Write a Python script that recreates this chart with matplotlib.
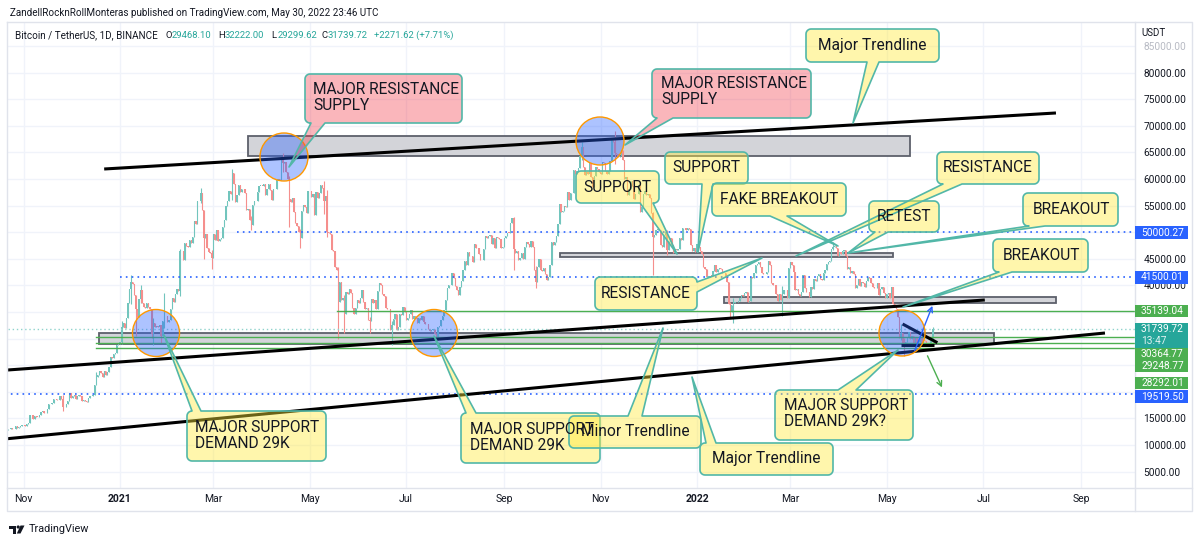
import numpy as np
import pandas as pd
import matplotlib
matplotlib.use("Agg")
import matplotlib.pyplot as plt
import matplotlib.dates as mdates
from matplotlib.patches import Polygon, Rectangle, Circle

# ---------------- DATA: BTCUSDT daily closes (thousand USDT) ----------------
close_2020_10 = [11.91, 12.82, 12.97, 12.93, 13.11, 13.03, 13.07, 13.64, 13.27, 13.46, 13.56, 13.80]  # from Oct 20
close_2020_11 = [13.74, 13.55, 14.03, 14.16, 15.59, 15.58, 14.83, 15.48, 15.33, 15.30, 15.70, 16.28, 16.32, 16.07, 15.96,
                 16.73, 17.65, 17.78, 17.82, 18.66, 18.70, 18.42, 18.37, 19.16, 18.72, 17.15, 17.14, 17.72, 18.18, 19.70]
close_2020_12 = [18.76, 19.20, 19.42, 18.65, 19.15, 19.36, 19.17, 18.32, 18.55, 18.26, 18.04, 18.80, 19.17, 19.27, 19.43,
                 21.34, 22.80, 23.13, 23.86, 23.48, 22.75, 23.82, 23.24, 23.73, 24.71, 26.49, 26.28, 27.04, 27.37, 28.86, 28.92]
close_2021_01 = [29.33, 32.18, 33.00, 31.99, 33.95, 36.77, 39.41, 40.67, 40.24, 38.24, 35.54, 34.01, 37.37, 39.16, 36.77,
                 36.01, 35.82, 36.63, 35.89, 35.47, 30.83, 33.00, 32.10, 32.29, 32.25, 32.51, 30.43, 33.40, 34.27, 34.26, 33.09]
close_2021_02 = [33.51, 35.47, 37.62, 36.94, 38.29, 39.26, 38.87, 46.45, 46.51, 44.84, 47.99, 47.41, 47.23, 48.59, 47.91,
                 49.13, 52.12, 51.55, 55.91, 55.84, 57.41, 54.09, 48.89, 49.68, 47.07, 46.28, 46.11, 45.14]
close_2021_03 = [49.59, 48.44, 50.35, 48.37, 48.76, 48.88, 50.97, 52.38, 54.88, 55.85, 57.77, 57.22, 61.19, 59.00, 55.64,
                 56.93, 58.92, 57.65, 58.03, 58.10, 57.35, 54.08, 54.34, 52.30, 51.30, 55.03, 55.84, 55.78, 57.63, 58.73, 58.74]
close_2021_04 = [58.72, 58.97, 57.06, 58.20, 59.13, 57.99, 56.07, 58.09, 58.09, 59.77, 60.00, 59.86, 63.58, 62.96, 63.16,
                 61.33, 60.01, 56.15, 55.63, 56.43, 53.79, 51.70, 51.15, 50.05, 49.00, 54.02, 55.03, 54.82, 53.56, 57.75]
close_2021_05 = [57.83, 56.61, 57.20, 53.24, 57.47, 56.43, 57.38, 58.93, 58.28, 55.86, 56.75, 49.95, 49.92, 49.72, 46.70,
                 46.43, 43.54, 42.91, 36.96, 40.60, 37.31, 37.68, 34.65, 38.80, 38.32, 39.24, 38.53, 35.66, 34.62, 35.68, 37.34]
close_2021_06 = [36.69, 37.56, 39.19, 36.85, 35.52, 35.80, 33.55, 33.38, 37.39, 36.68, 37.31, 35.55, 39.02, 40.53, 40.14,
                 38.35, 38.09, 35.82, 35.48, 35.60, 31.68, 32.51, 33.68, 34.64, 31.64, 32.16, 34.65, 34.48, 35.87, 35.04]
close_2021_07 = [33.57, 33.80, 34.67, 35.29, 33.69, 34.22, 33.86, 32.88, 33.81, 33.52, 34.26, 33.09, 32.73, 32.82, 31.78,
                 31.39, 31.53, 31.78, 30.84, 29.79, 32.14, 32.29, 33.58, 34.28, 35.43, 37.21, 39.46, 40.01, 40.03, 42.24, 41.46]
close_2021_08 = [39.85, 39.15, 38.21, 39.72, 40.87, 42.84, 44.61, 43.83, 46.29, 45.60, 45.55, 44.43, 47.83, 47.10, 47.02,
                 45.94, 44.69, 44.71, 46.76, 49.34, 48.87, 49.28, 49.51, 47.71, 48.97, 46.94, 49.06, 48.90, 48.81, 46.99, 47.13]
close_2021_09 = [48.85, 49.25, 49.94, 49.93, 51.76, 52.66, 46.86, 46.05, 46.40, 44.85, 45.14, 46.06, 44.96, 47.13, 48.15,
                 47.75, 47.30, 48.31, 47.26, 42.84, 40.69, 43.55, 44.87, 42.81, 42.70, 43.19, 42.17, 41.03, 41.52, 43.82]
close_2021_10 = [48.14, 47.63, 48.20, 49.22, 51.47, 55.32, 53.79, 53.95, 54.95, 54.66, 57.47, 56.01, 57.37, 57.35, 61.67,
                 60.88, 61.53, 62.04, 64.28, 66.00, 62.19, 60.69, 61.29, 60.85, 63.08, 60.33, 58.46, 60.59, 62.25, 61.86, 61.30]
close_2021_11 = [61.00, 63.23, 62.94, 61.44, 61.01, 61.53, 63.33, 67.53, 66.93, 64.86, 64.78, 64.14, 64.38, 65.50, 63.61,
                 60.06, 60.35, 56.90, 58.06, 59.71, 58.62, 56.25, 57.26, 57.14, 58.96, 53.73, 54.72, 57.27, 57.80, 56.95]
close_2021_12 = [57.18, 56.48, 53.60, 49.15, 49.40, 50.44, 50.62, 50.48, 47.55, 47.14, 49.39, 50.05, 46.70, 48.34, 48.86,
                 47.63, 46.13, 46.83, 46.68, 46.91, 48.90, 48.61, 50.82, 50.82, 50.43, 50.81, 50.64, 47.59, 46.46, 47.12, 46.22]
close_2022_01 = [47.72, 47.29, 46.43, 45.83, 43.43, 43.08, 41.55, 41.73, 41.86, 41.82, 42.74, 43.92, 42.59, 43.10, 43.18,
                 43.11, 42.25, 42.38, 41.68, 40.68, 36.45, 35.07, 36.28, 36.69, 36.96, 36.85, 37.16, 37.72, 38.17, 37.92, 38.50]
close_2022_02 = [38.74, 36.95, 37.08, 41.57, 41.41, 42.41, 43.84, 44.04, 44.39, 43.51, 42.41, 42.20, 42.09, 42.54, 44.58,
                 43.89, 40.52, 40.00, 40.12, 38.43, 37.07, 38.29, 37.26, 38.33, 39.21, 39.11, 37.70, 43.19]
close_2022_03 = [44.42, 43.92, 42.45, 39.14, 39.40, 38.42, 37.99, 38.73, 41.94, 39.42, 38.73, 38.81, 37.78, 39.67, 39.28,
                 41.11, 40.92, 41.76, 42.20, 41.26, 41.00, 42.36, 42.89, 43.96, 44.32, 44.51, 46.82, 47.13, 47.43, 47.07, 45.51]
close_2022_04 = [46.28, 45.81, 46.41, 46.58, 45.50, 43.17, 43.44, 42.25, 42.75, 42.16, 39.53, 40.07, 41.15, 39.94, 40.55,
                 40.38, 39.68, 40.80, 41.49, 41.36, 40.48, 39.71, 39.45, 39.45, 40.43, 38.11, 39.24, 39.74, 38.60, 37.63]
close_2022_05 = [38.47, 38.53, 37.72, 39.69, 36.55, 36.01, 35.47, 34.04, 30.10, 31.02, 29.10, 29.03, 29.28, 30.08, 31.33,
                 29.87, 30.44, 28.72, 30.30, 29.20, 29.43, 30.29, 29.10, 29.65, 29.54, 29.20, 28.63, 29.03, 29.4681, 31.73972]

month_starts = ["2020-10-20", "2020-11-01", "2020-12-01", "2021-01-01", "2021-02-01", "2021-03-01", "2021-04-01",
                "2021-05-01", "2021-06-01", "2021-07-01", "2021-08-01", "2021-09-01", "2021-10-01", "2021-11-01",
                "2021-12-01", "2022-01-01", "2022-02-01", "2022-03-01", "2022-04-01", "2022-05-01"]
month_closes = [close_2020_10, close_2020_11, close_2020_12, close_2021_01, close_2021_02, close_2021_03, close_2021_04,
                close_2021_05, close_2021_06, close_2021_07, close_2021_08, close_2021_09, close_2021_10, close_2021_11,
                close_2021_12, close_2022_01, close_2022_02, close_2022_03, close_2022_04, close_2022_05]

# notable wicks (high, low) in thousand USDT
wicks = {
    "2020-11-26": (19.46, 16.33), "2020-12-17": (23.80, 21.23), "2021-01-02": (33.30, 28.95),
    "2021-01-08": (41.95, 36.50), "2021-01-11": (38.26, 30.42), "2021-01-14": (40.10, 36.70),
    "2021-01-21": (35.60, 30.07), "2021-01-22": (33.83, 28.85), "2021-01-27": (32.56, 29.24),
    "2021-01-29": (38.53, 31.99), "2021-02-08": (46.75, 37.99), "2021-02-21": (58.35, 55.48),
    "2021-02-23": (54.18, 44.89), "2021-02-28": (46.72, 43.00), "2021-03-13": (61.84, 56.08),
    "2021-03-25": (53.00, 50.43), "2021-04-14": (64.85, 61.30), "2021-04-18": (60.48, 51.00),
    "2021-04-25": (50.57, 47.04), "2021-05-10": (59.59, 53.40), "2021-05-12": (57.94, 49.15),
    "2021-05-19": (43.55, 30.00), "2021-05-23": (38.27, 31.11), "2021-06-08": (34.07, 31.00),
    "2021-06-22": (33.30, 28.81), "2021-07-20": (31.05, 29.28), "2021-09-07": (52.92, 42.84),
    "2021-09-21": (43.63, 39.60), "2021-10-20": (67.00, 63.48), "2021-11-10": (69.00, 62.82),
    "2021-12-04": (53.86, 42.00), "2021-12-13": (50.38, 45.67), "2022-01-22": (36.83, 34.01),
    "2022-01-24": (37.55, 32.92), "2022-02-24": (39.84, 34.32), "2022-03-28": (48.19, 46.66),
    "2022-05-10": (32.66, 29.73), "2022-05-12": (30.03, 26.70), "2022-05-30": (32.222, 29.29962),
}

# horizontal levels
blue_levels = [50000.27, 41500.01, 19519.50]
blue_starts = ["2021-03-16", "2021-01-01", "2020-10-20"]
green_levels = [35139.04, 30364.77, 29248.77, 28292.01]
green_starts = ["2021-05-18", "2020-12-17", "2020-12-17", "2020-12-17"]
last_price = 31739.72

# zones: start, end, low, high
zones = [("2021-03-23", "2022-05-16", 64320, 68080),
         ("2021-10-06", "2022-05-05", 45400, 46000),
         ("2022-01-18", "2022-08-16", 36630, 37870),
         ("2020-12-19", "2022-07-08", 28930, 31110)]
# trendlines: start date, price, end date, price
trendlines = [("2020-12-22", 61880, "2022-08-16", 72410),
              ("2020-10-22", 24100, "2022-07-02", 37260),
              ("2020-10-22", 11190, "2022-09-16", 31050),
              ("2022-05-11", 32745, "2022-06-02", 29230),
              ("2022-05-10", 28800, "2022-05-31", 28800)]
arrows = [("2022-05-18", 27240, "2022-05-30 12:00", 36640, "#2962ff"),
          ("2022-05-26", 27240, "2022-06-05 16:00", 20340, "#4caf50")]

price_ticks = list(range(5000, 90000, 5000))
hidden_ticks = [20000, 25000, 30000, 35000]   # covered by price-label boxes
time_ticks = ["2020-11-01", "2021-01-01", "2021-03-01", "2021-05-01", "2021-07-01", "2021-09-01",
              "2021-11-01", "2022-01-01", "2022-03-01", "2022-05-01", "2022-07-01", "2022-09-01"]
time_labels = ["Nov", "2021", "Mar", "May", "Jul", "Sep", "Nov", "2022", "Mar", "May", "Jul", "Sep"]

# ---------------- FIGURE ----------------
plt.rcParams['font.family'] = ['Roboto', 'DejaVu Sans']
TXT = "#131722"
W, H = 1200, 541
fig = plt.figure(figsize=(W / 100, H / 100), dpi=100)
fig.patch.set_facecolor("white")
PL, PR, PT, PB = 8, 1135, 22, 488
ax = fig.add_axes([PL / W, 1 - PB / H, (PR - PL) / W, (PB - PT) / H])
ov = fig.add_axes([0, 0, 1, 1], zorder=10)
ov.set_xlim(0, W); ov.set_ylim(H, 0); ov.axis("off"); ov.patch.set_alpha(0)

# build candles
dates, closes = [], []
for st, vals in zip(month_starts, month_closes):
    dates.extend(pd.date_range(st, periods=len(vals), freq="D"))
    closes.extend(v * 1000 for v in vals)
dates = pd.DatetimeIndex(dates)
closes = np.array(closes)
opens = np.r_[closes[0], closes[:-1]]
highs = np.maximum(opens, closes)
lows = np.minimum(opens, closes)
for k, (hh, ll) in wicks.items():
    i = dates.get_loc(pd.Timestamp(k))
    highs[i] = max(highs[i], hh * 1000)
    lows[i] = min(lows[i], ll * 1000)
xs = mdates.date2num(dates)[1:]
o, c, hi, lo = opens[1:], closes[1:], highs[1:], lows[1:]
up = c >= o
cols = np.where(up, "#72c5bd", "#f58f8d")

ax.set_xlim(mdates.date2num(pd.Timestamp("2020-10-22 04:00")), mdates.date2num(pd.Timestamp("2022-10-05")))
ax.set_ylim(1917, 89511)
for s in ax.spines.values():
    s.set_visible(False)
ax.grid(True, color="#f0f3fa", lw=1)
ax.set_axisbelow(True)

# zones
for st, en, zl, zh in zones:
    x0 = mdates.date2num(pd.Timestamp(st)); x1 = mdates.date2num(pd.Timestamp(en))
    ax.add_patch(Rectangle((x0, zl), x1 - x0, zh - zl, fc="#d3d4d9", ec="#5d606b", lw=1.3, zorder=1.5))

# candles
ax.vlines(xs, lo, hi, colors=cols, lw=0.8, zorder=2)
ax.bar(xs, np.maximum(np.abs(c - o), 60), bottom=np.minimum(o, c), width=0.8, color=cols, lw=0, zorder=2)

# horizontal levels
xr = ax.get_xlim()[1]
for lv, st in zip(blue_levels, blue_starts):
    ax.plot([mdates.date2num(pd.Timestamp(st)), xr], [lv, lv], color="#2962ff", lw=1.2, ls=(0, (1, 2.5)), zorder=3)
for lv, st in zip(green_levels, green_starts):
    ax.plot([mdates.date2num(pd.Timestamp(st)), xr], [lv, lv], color="#4caf50", lw=1.0, zorder=3)
ax.axhline(last_price, color="#8fd3cc", lw=1.0, ls=(0, (1, 2)), zorder=3)

# trendlines
for s0, p0, s1, p1 in trendlines:
    ax.plot([mdates.date2num(pd.Timestamp(s0)), mdates.date2num(pd.Timestamp(s1))], [p0, p1],
            color="black", lw=2.2, solid_capstyle="butt", zorder=4)
for s0, p0, s1, p1, col in arrows:
    ax.annotate("", xy=(mdates.date2num(pd.Timestamp(s1)), p1), xytext=(mdates.date2num(pd.Timestamp(s0)), p0),
                arrowprops=dict(arrowstyle="->", color=col, lw=1.0, mutation_scale=9), zorder=4)

# axes ticks
ax.yaxis.tick_right()
ax.set_yticks(price_ticks)
ax.set_yticklabels(["" if v in hidden_ticks else f"{v:.2f}" for v in price_ticks])
ax.tick_params(axis="y", length=0, pad=6, labelsize=7.3, labelcolor=TXT)
for tl, v in zip(ax.get_yticklabels(), price_ticks):
    if v == 85000:
        tl.set_color("#b8bbc4")
ax.set_xticks([mdates.date2num(pd.Timestamp(t)) for t in time_ticks])
ax.set_xticklabels(time_labels)
ax.tick_params(axis="x", length=0, pad=4, labelsize=7.5, labelcolor=TXT)
for tl in ax.get_xticklabels():
    if tl.get_text().startswith("20"):
        tl.set_fontweight("bold")

# ---------------- OVERLAY (pixel layout) ----------------
FR = "#e0e3eb"
ov.plot([7, 1192, 1192, 7, 7], [22, 22, 511, 511, 22], color=FR, lw=1)
ov.plot([1135, 1135], [22, 511], color=FR, lw=1)
ov.plot([7, 1192], [488, 488], color=FR, lw=1)

# circles
circles = [(156, 333, 23.5), (434, 333, 23.5), (284, 157, 24), (600, 141, 24), (902, 333, 23)]
for cx, cy, r in circles:
    ov.add_patch(Circle((cx, cy), r, fc=(41 / 255, 98 / 255, 1, 0.38), ec="#ff9800", lw=1.0, zorder=3))


def callout_pts(x0, y0, x1, y1, side, b1, b2, tip, r=5):
    pts = []

    def arc(cx, cy, a0, a1):
        for a in np.linspace(a0, a1, 7):
            pts.append((cx + r * np.cos(a), cy + r * np.sin(a)))
    lo_, hi_ = min(b1, b2), max(b1, b2)
    pts.append((x0 + r, y0))
    if side == "top":
        pts.extend([(lo_, y0), tip, (hi_, y0)])
    arc(x1 - r, y0 + r, -np.pi / 2, 0)
    if side == "right":
        pts.extend([(x1, lo_), tip, (x1, hi_)])
    arc(x1 - r, y1 - r, 0, np.pi / 2)
    if side == "bottom":
        pts.extend([(hi_, y1), tip, (lo_, y1)])
    arc(x0 + r, y1 - r, np.pi / 2, np.pi)
    if side == "left":
        pts.extend([(x0, hi_), tip, (x0, lo_)])
    arc(x0 + r, y0 + r, np.pi, 1.5 * np.pi)
    return pts


YEL = (1, 235 / 255, 59 / 255, 0.42)
PNK = (242 / 255, 54 / 255, 69 / 255, 0.36)
EDGE = "#52b7a8"
callouts = [
    # box, side, base, tip, fill, lines [(text, x, y, ha)]
    ((305, 74, 462, 123), "bottom", (311, 325), (289, 167), PNK, [("MAJOR RESISTANCE", 313, 89, "left"), ("SUPPLY", 313, 105, "left")]),
    ((652, 69, 811, 118), "bottom", (657, 673), (625, 145), PNK, [("MAJOR RESISTANCE", 661, 84, "left"), ("SUPPLY", 661, 100, "left")]),
    ((806, 29, 939, 62), "bottom", (867, 879), (853, 123), YEL, [("Major Trendline", 872, 45.5, "center")]),
    ((576, 171, 659, 203), "bottom", (640, 653), (677, 254), YEL, [("SUPPORT", 617, 187, "center")]),
    ((665, 152, 748, 184), "bottom", (702, 713), (698, 252), YEL, [("SUPPORT", 706, 168, "center")]),
    ((712, 183, 846, 216), "bottom", (770, 787), (838, 246), YEL, [("FAKE BREAKOUT", 779, 200, "center")]),
    ((869, 201, 939, 232), "bottom", (875, 888), (848, 253), YEL, [("RETEST", 904, 216.5, "center")]),
    ((937, 152, 1039, 184), "bottom", (943, 962), (796, 256), YEL, [("RESISTANCE", 988, 168, "center")]),
    ((1023, 193, 1118, 226), "bottom", (1029, 1045), (848, 253), YEL, [("BREAKOUT", 1071, 209.5, "center")]),
    ((993, 239, 1088, 272), "bottom", (999, 1012), (903, 307), YEL, [("BREAKOUT", 1041, 255.5, "center")]),
    ((595, 277, 697, 310), "right", (282, 292), (762, 258), YEL, [("RESISTANCE", 646, 293.5, "center")]),
    ((187, 411, 326, 461), "top", (192, 201), (164, 335), YEL, [("MAJOR SUPPORT", 195, 427, "left"), ("DEMAND 29K", 195, 443, "left")]),
    ((461, 413, 600, 463), "top", (466, 476), (434, 336), YEL, [("MAJOR SUPPORT", 470, 429, "left"), ("DEMAND 29K", 470, 445, "left")]),
    ((569, 416, 701, 448), "top", (628, 642), (663, 328), YEL, [("Minor Trendline", 635, 432, "center")]),
    ((700, 443, 833, 475), "top", (706, 716), (692, 377), YEL, [("Major Trendline", 766, 459, "center")]),
    ((775, 390, 913, 440), "top", (838, 856), (898, 350), YEL, [("MAJOR SUPPORT", 784, 406, "left"), ("DEMAND 29K?", 784, 422, "left")]),
]
for (x0, y0, x1, y1), side, (b1, b2), tip, fill, lines in callouts:
    ov.add_patch(Polygon(callout_pts(x0, y0, x1, y1, side, b1, b2, tip), closed=True,
                         fc=fill, ec=EDGE, lw=1.2, joinstyle="round", zorder=5))
    for t, tx, ty, ha in lines:
        ov.text(tx, ty, t, ha=ha, va="center", fontsize=11.2, color=TXT, zorder=6)

# header texts
ov.text(10, 13, "ZandellRocknRollMonteras published on TradingView.com, May 30, 2022 23:46 UTC",
        fontsize=7.1, color=TXT, va="center", ha="left")
ov.text(15, 35.5, "Bitcoin / TetherUS, 1D, BINANCE", fontsize=7.1, color=TXT, va="center", ha="left")
TEAL = "#26a69a"
hdr = [("O", 165.5, TXT), ("29468.10", 171.5, TEAL), ("H", 218.3, TXT), ("32222.00", 224.8, TEAL),
       ("L", 271.7, TXT), ("29299.62", 277.3, TEAL), ("C", 321.7, TXT), ("31739.72", 327.8, TEAL),
       ("+2271.62 (+7.71%)", 374.5, TEAL)]
for t, tx, col in hdr:
    ov.text(tx, 35.5, t, fontsize=6.8, color=col, va="center", ha="left")

# price axis header
ov.text(1141, 33, "USDT", fontsize=7, color=TXT, va="center", ha="left")

# price labels
plabels = [(f"{blue_levels[0]:.2f}", 232.5, "#2962ff"), (f"{blue_levels[1]:.2f}", 277.5, "#2962ff"),
           (f"{green_levels[0]:.2f}", 311, "#4caf50"), (f"{green_levels[1]:.2f}", 354, "#4caf50"),
           (f"{green_levels[2]:.2f}", 366, "#4caf50"), (f"{green_levels[3]:.2f}", 383, "#4caf50"),
           (f"{blue_levels[2]:.2f}", 396.5, "#2962ff")]
for t, yc, col in plabels:
    ov.add_patch(Rectangle((1135, yc - 6.2), 53, 12.4, fc=col, ec="none", zorder=7))
    ov.text(1141, yc, t, fontsize=7.3, color="white", va="center", ha="left", zorder=8)
ov.add_patch(Rectangle((1135, 322.5), 53, 25, fc=TEAL, ec="none", zorder=7))
ov.text(1141, 329.5, f"{last_price:.2f}", fontsize=7.3, color="white", va="center", ha="left", zorder=8)
ov.text(1141, 341, "13:47", fontsize=7.3, color="#e0f2f1", va="center", ha="left", zorder=8)

# TradingView logo
ov.add_patch(Polygon([(9, 525.5), (16, 525.5), (16, 533.5), (13, 533.5), (13, 528.5), (9, 528.5)], closed=True, fc=TXT, ec="none"))
ov.add_patch(Circle((18.2, 527), 1.6, fc=TXT, ec="none"))
ov.add_patch(Polygon([(20.5, 525.5), (24.5, 525.5), (20.5, 533.5), (16.8, 533.5)], closed=True, fc=TXT, ec="none"))
ov.text(28.5, 529.5, "TradingView", fontsize=7.8, color=TXT, va="center", ha="left")

fig.savefig("out.png", dpi=100, facecolor="white")
